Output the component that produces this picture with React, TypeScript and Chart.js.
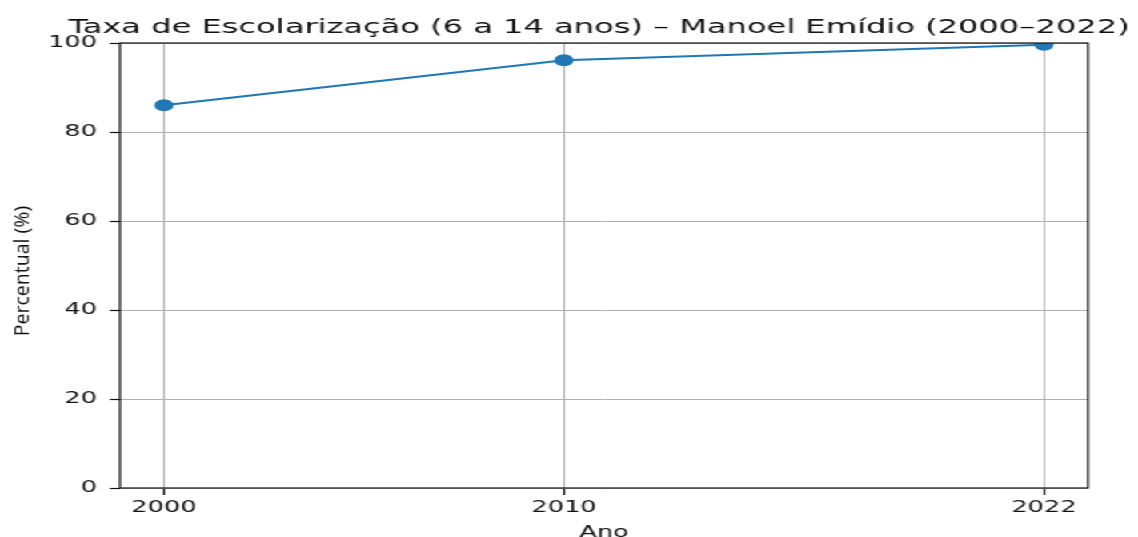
import React, { useEffect, useRef } from 'react';
import { Chart, registerables } from 'chart.js';

Chart.register(...registerables);

// ---- data ----
const TITLE = 'Taxa de Escolarização (6 a 14 anos) – Manoel Emídio (2000–2022)';
const X_TITLE = 'Ano';
const Y_TITLE = 'Percentual (%)';
const years = [2000, 2010, 2022];
const rates = [86.0, 96.1, 99.6];
const xTickValues = [2000, 2010, 2022];
const yTickValues = [0, 20, 40, 60, 80, 100];

// ---- layout ----
const OUT_W = 1138;
const OUT_H = 537;
const CW = 711; // canvas is drawn narrower and stretched horizontally, like the reference
const SCALE = OUT_W / CW;
const PLOT_LEFT = 120 / SCALE;
const PLOT_RIGHT = 1088 / SCALE;
const PAD_R = CW - PLOT_RIGHT;
const PLOT_TOP = 43;
const TEXT = '#111111';
const FONT = '"DejaVu Sans", sans-serif';

const framePlugin = {
  id: 'frame',
  afterDatasetsDraw(chart: any) {
    const { ctx, chartArea: a } = chart;
    ctx.save();
    ctx.strokeStyle = TEXT;
    ctx.lineWidth = 1.2;
    ctx.strokeRect(a.left, a.top, a.right - a.left, a.bottom - a.top);
    ctx.restore();
  },
};

const titlesPlugin = {
  id: 'titles',
  afterDraw(chart: any) {
    const { ctx } = chart;
    // main title (wider than the plot, as in the reference)
    ctx.save();
    ctx.fillStyle = TEXT;
    ctx.textAlign = 'center';
    ctx.textBaseline = 'alphabetic';
    let size = 21.5;
    ctx.font = `${size}px ${FONT}`;
    const target = 1062 / SCALE;
    const w = ctx.measureText(TITLE).width;
    if (w > 0) size = Math.min(24, Math.max(19, (size * target) / w));
    ctx.font = `${size}px ${FONT}`;
    ctx.fillText(TITLE, 599 / SCALE, 33);
    ctx.restore();

    // y-axis title
    ctx.save();
    ctx.translate(28.3 / SCALE, 271);
    ctx.rotate(-Math.PI / 2);
    ctx.scale(1, 1 / SCALE);
    ctx.font = '19.5px "Open Sans", sans-serif';
    ctx.fillStyle = TEXT;
    ctx.textAlign = 'center';
    ctx.textBaseline = 'alphabetic';
    ctx.fillText(Y_TITLE, 0, 0);
    ctx.restore();
  },
};

export default function App() {
  const ref = useRef<HTMLCanvasElement | null>(null);

  useEffect(() => {
    if (!ref.current) return;
    const chart = new Chart(ref.current, {
      type: 'line',
      data: {
        datasets: [
          {
            data: years.map((y, i) => ({ x: y, y: rates[i] })),
            borderColor: '#1f77b4',
            backgroundColor: '#1f77b4',
            borderWidth: 2,
            pointRadius: 6,
            pointBorderWidth: 0,
            pointBackgroundColor: '#1f77b4',
            tension: 0,
          },
        ],
      },
      options: {
        responsive: false,
        animation: false,
        devicePixelRatio: 1,
        layout: { padding: { left: 0, right: PAD_R, top: PLOT_TOP, bottom: 0 } },
        plugins: {
          legend: { display: false },
          tooltip: { enabled: false },
          title: { display: false },
        },
        scales: {
          x: {
            type: 'linear',
            min: 1998.9,
            max: 2023.1,
            afterBuildTicks: (s: any) => {
              s.ticks = xTickValues.map((v) => ({ value: v }));
            },
            afterFit: (s: any) => {
              s.height = 49;
            },
            grid: { color: '#b0b0b0', lineWidth: 1, tickColor: TEXT, tickLength: 7, tickWidth: 1.2 },
            border: { display: false },
            ticks: {
              color: TEXT,
              font: { family: FONT, size: 16 },
              padding: 3,
              maxRotation: 0,
              autoSkip: false,
              callback: (v: any) => String(v),
            },
            title: {
              display: true,
              text: X_TITLE,
              color: TEXT,
              font: { family: FONT, size: 16 },
              padding: { top: 0, bottom: -5.5 },
            },
          },
          y: {
            type: 'linear',
            min: 0,
            max: 100,
            afterBuildTicks: (s: any) => {
              s.ticks = yTickValues.map((v) => ({ value: v }));
            },
            afterFit: (s: any) => {
              s.width = PLOT_LEFT;
            },
            grid: { color: '#b0b0b0', lineWidth: 1, tickColor: TEXT, tickLength: 6.3, tickWidth: 1.2 },
            border: { display: false },
            ticks: {
              color: TEXT,
              font: { family: FONT, size: 16 },
              padding: 8,
              autoSkip: false,
              callback: (v: any) => String(v),
            },
          },
        },
      },
      plugins: [framePlugin, titlesPlugin],
    });
    return () => chart.destroy();
  }, []);

  return (
    <div
      style={{
        position: 'fixed',
        left: 0,
        top: 0,
        width: CW,
        height: OUT_H,
        transform: `scaleX(${SCALE})`,
        transformOrigin: '0 0',
        background: '#ffffff',
      }}
    >
      <canvas ref={ref} width={CW} height={OUT_H} style={{ display: 'block', width: CW, height: OUT_H }} />
    </div>
  );
}
